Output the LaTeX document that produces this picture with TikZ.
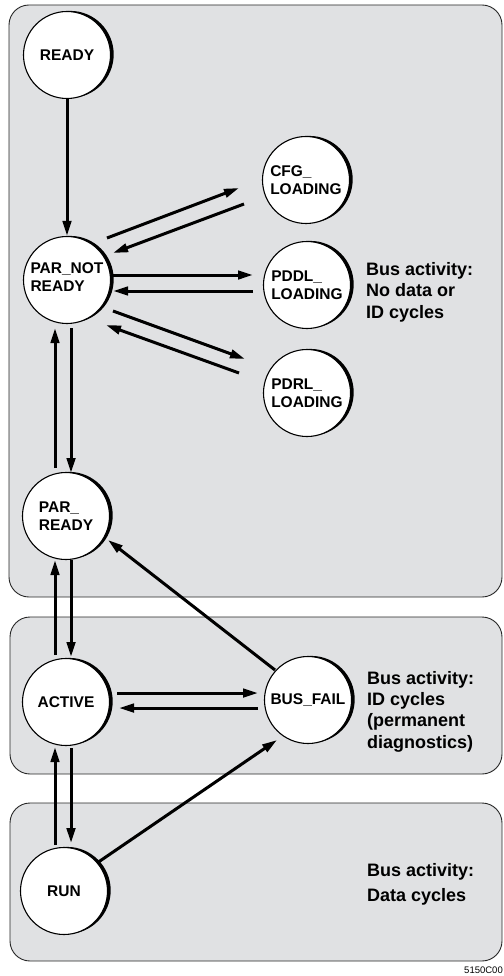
\documentclass[tikz,border=0pt]{standalone}
\usepackage{fontspec}
\setmainfont{Liberation Sans}
\usetikzlibrary{arrows.meta,shadows}
\definecolor{panelgray}{RGB}{224,225,227}

\begin{document}
\begin{tikzpicture}[x=1pt,y=-1pt,
  panel/.style={draw=black!85, line width=0.9pt, fill=panelgray, rounded corners=20pt},
  state/.style={circle, draw, line width=1.1pt, fill=white, minimum size=87pt, inner sep=0pt,
    drop shadow={shadow xshift=3.2pt, shadow yshift=0.6pt, fill=black, opacity=1}},
  stname/.style={font=\bfseries\fontsize{15.5}{18}\selectfont, align=left, inner sep=0pt},
  note/.style={font=\bfseries\fontsize{18}{21.6}\selectfont, align=left, anchor=north west, inner sep=0pt},
  arr/.style={line width=3pt, -{Triangle[length=15pt,width=8.5pt]}}]

\useasboundingbox (0,0) rectangle (503,976);

% activity panels
\path[panel] (9,5) rectangle (502,597);
\path[panel] (10,617) rectangle (502,774);
\path[panel] (10,803) rectangle (502,961);

% states
\node[state] (ready)    at (67,55)  {};
\node[state] (parnot)   at (67,280) {};
\node[state] (cfg)      at (306,180) {};
\node[state] (pddl)     at (307,285) {};
\node[state] (pdrl)     at (307,393) {};
\node[state] (parready) at (66,516) {};
\node[state] (active)   at (66,702) {};
\node[state] (busfail)  at (308,700) {};
\node[state] (run)      at (64,891) {};

\node[stname] (readyT)    at (ready)    {READY};
\node[stname] (parnotT)   at ([yshift=3pt]parnot.center) {PAR\_NOT\\READY};
\node[stname] (cfgT)      at (cfg)      {CFG\_\\LOADING};
\node[stname] (pddlT)     at (pddl)     {PDDL\_\\LOADING};
\node[stname] (pdrlT)     at (pdrl)     {PDRL\_\\LOADING};
\node[stname] (parreadyT) at (parready) {PAR\_\\READY};
\node[stname] (activeT)   at (active)   {ACTIVE};
\node[stname] (busfailT)  at (busfail)  {BUS\_FAIL};
\node[stname] (runT)      at (run)      {RUN};

% bus activity notes
\node[note] (noteA) at (366,262) {Bus activity:\\No data or\\ID cycles};
\node[note, font=\bfseries\fontsize{18}{21.3}\selectfont] (noteB) at (367,671) {Bus activity:\\ID cycles\\(permanent\\diagnostics)};
\node[note, font=\bfseries\fontsize{18}{25.5}\selectfont] (noteC) at (367,863) {Bus activity:\\Data cycles};

\node[font=\fontsize{9.5}{11}\selectfont, anchor=base east, inner sep=0pt] (code) at (503,973) {5150C00};

% transitions
\draw[arr] (ready.south) -- (parnot.north);

\draw[arr] ([shift={(40,-42)}]parnot.center) -- ([shift={(-67,8)}]cfg.center);
\draw[arr] ([shift={(-62,24)}]cfg.center) -- ([shift={(46,-27)}]parnot.center);

\draw[arr] ([shift={(46,-5)}]parnot.center) -- ([shift={(-54,-10)}]pddl.center);
\draw[arr] ([shift={(-54,6)}]pddl.center) -- ([shift={(46,11)}]parnot.center);

\draw[arr] ([shift={(46,31)}]parnot.center) -- ([shift={(-62,-34)}]pdrl.center);
\draw[arr] ([shift={(-68,-20)}]pdrl.center) -- ([shift={(39,45)}]parnot.center);

\draw[arr] ([shift={(-11,-48)}]parready.center) -- ([shift={(-12,48)}]parnot.center);
\draw[arr] ([shift={(4,48)}]parnot.center) -- ([shift={(5,-43)}]parready.center);

\draw[arr] ([shift={(-11,-47)}]active.center) -- ([shift={(-11,44)}]parready.center);
\draw[arr] ([shift={(5,44)}]parready.center) -- ([shift={(5,-45)}]active.center);

\draw[arr] ([shift={(-9,-46)}]run.center) -- ([shift={(-11,45)}]active.center);
\draw[arr] ([shift={(5,46)}]active.center) -- ([shift={(7,-48)}]run.center);

\draw[arr] ([shift={(51,-9)}]active.center) -- ([shift={(-50,-7)}]busfail.center);
\draw[arr] ([shift={(-50,8)}]busfail.center) -- ([shift={(53,6)}]active.center);

\draw[arr] ([shift={(-33,-30)}]busfail.center) -- ([shift={(42,24)}]parready.center);
\draw[arr] ([shift={(33,-28)}]run.center) -- ([shift={(-31,40)}]busfail.center);
\end{tikzpicture}
\end{document}
